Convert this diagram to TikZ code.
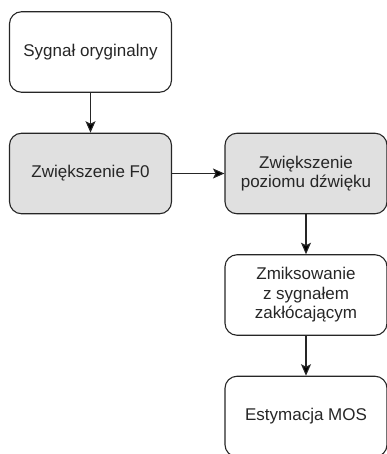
\documentclass[tikz,border=0pt]{standalone}
\usepackage{fontspec}
\setmainfont{Liberation Sans}
\usetikzlibrary{positioning, arrows.meta}

\begin{document}
\begin{tikzpicture}[>={Stealth[length=11.5pt,width=10pt,inset=2.5pt]},node distance=121.5pt and 215.5pt,on grid,auto,
  block/.style={draw=black!85,line width=1.1pt,rounded corners=12pt,minimum width=162pt,minimum height=80.5pt,
    align=center,font=\fontsize{17}{19.5}\selectfont,text=black!85},
  shaded/.style={block,fill=black!12}]
 \useasboundingbox (-90.5pt,52pt) rectangle (296.5pt,-402pt);
 \node[block] (orig) {Sygnał oryginalny};
 \node[shaded] (f0) [below=of orig] {Zwiększenie F0};
 \node[shaded] (vol) [right=of f0] {Zwiększenie\\poziomu dźwięku};
 \node[block] (mix) [below=of vol] {Zmiksowanie\\z sygnałem\\zakłócającym};
 \node[block] (mos) [below=of mix] {Estymacja MOS};
  \path[->,line width=1.1pt,draw=black!85]
  (orig) edge (f0)
  (f0) edge (vol)
  (vol) edge (mix)
  (mix) edge (mos);
\end{tikzpicture}
\end{document}
